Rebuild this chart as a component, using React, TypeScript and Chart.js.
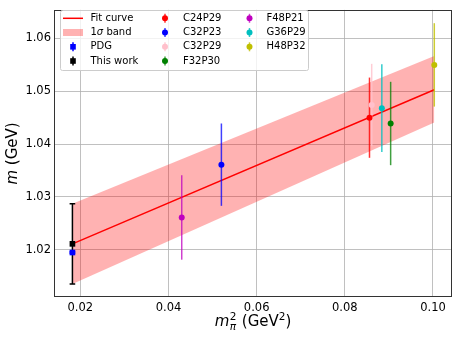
import React, { useEffect, useRef } from 'react';
import { Chart, registerables } from 'chart.js';
Chart.register(...registerables);

// ---- data ----
const xTicks = [0.02, 0.04, 0.06, 0.08, 0.1];
const xTickLabels = ['0.02', '0.04', '0.06', '0.08', '0.10'];
const yTicks = [1.02, 1.03, 1.04, 1.05, 1.06];
const yTickLabels = ['1.02', '1.03', '1.04', '1.05', '1.06'];

const fitX = [0.0182, 0.1003];
const fitY = [1.0211, 1.0503];
const bandUpper = [1.0287, 1.0567];
const bandLower = [1.0135, 1.0441];

const pdgX = [0.0182];
const pdgY = [1.01946];
const pdgErr = [0.00016];
const thisWorkX = [0.0182];
const thisWorkY = [1.0211];
const thisWorkErr = [0.0076];

const seriesNames = ['C24P29', 'C32P23', 'C32P29', 'F32P30', 'F48P21', 'G36P29', 'H48P32'];
const seriesX = [0.0856, 0.052, 0.0861, 0.0904, 0.043, 0.0884, 0.1003];
const seriesY = [1.045, 1.0361, 1.0474, 1.0439, 1.0261, 1.0468, 1.055];
const seriesErr = [0.0076, 0.0078, 0.0078, 0.0079, 0.008, 0.0083, 0.0079];
const seriesColors = ['#ff0000', '#0000ff', '#ffc0cb', '#008000', '#bf00bf', '#00bfbf', '#bfbf00'];
const seriesBarColors = ['rgba(255,0,0,0.8)', 'rgba(0,0,255,0.75)', 'rgba(255,192,203,0.8)', 'rgba(0,128,0,0.75)', 'rgba(191,0,191,0.75)', 'rgba(0,191,191,0.8)', 'rgba(191,191,0,0.8)'];

const FONT = '"DejaVu Sans", sans-serif';
const X_MIN = 0.01402, X_MAX = 0.10432, Y_MIN = 1.01103, Y_MAX = 1.06542;

function vbar(ctx: CanvasRenderingContext2D, x: number, y1: number, y2: number, color: string, cap: number) {
  ctx.save();
  ctx.strokeStyle = color;
  ctx.lineWidth = 1.5;
  ctx.beginPath();
  ctx.moveTo(x, y1);
  ctx.lineTo(x, y2);
  if (cap > 0) {
    ctx.moveTo(x - cap, y1); ctx.lineTo(x + cap, y1);
    ctx.moveTo(x - cap, y2); ctx.lineTo(x + cap, y2);
  }
  ctx.stroke();
  ctx.restore();
}

const errorBarPlugin = {
  id: 'errbars',
  afterDatasetDraw(chart: any, args: any) {
    if (args.index !== 2) return;
    const ctx = chart.ctx as CanvasRenderingContext2D;
    const xs = chart.scales.x, ys = chart.scales.y;
    ctx.save();
    ctx.beginPath();
    ctx.rect(chart.chartArea.left, chart.chartArea.top, chart.chartArea.right - chart.chartArea.left, chart.chartArea.bottom - chart.chartArea.top);
    ctx.clip();
    pdgX.forEach((x, i) => vbar(ctx, xs.getPixelForValue(x), ys.getPixelForValue(pdgY[i] + pdgErr[i]), ys.getPixelForValue(pdgY[i] - pdgErr[i]), '#0000ff', 2.8));
    thisWorkX.forEach((x, i) => vbar(ctx, xs.getPixelForValue(x), ys.getPixelForValue(thisWorkY[i] + thisWorkErr[i]), ys.getPixelForValue(thisWorkY[i] - thisWorkErr[i]), '#000000', 2.8));
    seriesX.forEach((x, i) => vbar(ctx, xs.getPixelForValue(x), ys.getPixelForValue(seriesY[i] + seriesErr[i]), ys.getPixelForValue(seriesY[i] - seriesErr[i]), seriesBarColors[i], 0));
    ctx.restore();
  },
};

function drawRich(ctx: CanvasRenderingContext2D, parts: { t: string; f: string; dy?: number; group?: boolean }[], x: number, y: number) {
  let cx = x;
  for (const p of parts) {
    ctx.font = p.f;
    ctx.fillText(p.t, cx, y + (p.dy || 0));
    cx += ctx.measureText(p.t).width;
  }
}

const decorPlugin = {
  id: 'decor',
  afterDraw(chart: any) {
    const ctx = chart.ctx as CanvasRenderingContext2D;
    const a = chart.chartArea;
    ctx.save();
    // frame
    ctx.strokeStyle = '#333333';
    ctx.lineWidth = 1;
    ctx.strokeRect(Math.round(a.left) + 0.5, Math.round(a.top) + 0.5, Math.round(a.right - a.left) - 1, Math.round(a.bottom - a.top) - 1);

    ctx.fillStyle = '#000';
    // y title
    ctx.save();
    ctx.translate(13, (a.top + a.bottom) / 2);
    ctx.rotate(-Math.PI / 2);
    ctx.textBaseline = 'middle';
    ctx.textAlign = 'left';
    const yParts = [{ t: 'm', f: `italic 15px ${FONT}` }, { t: ' (GeV)', f: `15px ${FONT}` }];
    let wsum = 0;
    yParts.forEach(p => { ctx.font = p.f; wsum += ctx.measureText(p.t).width; });
    drawRich(ctx, yParts, -wsum / 2, 0);
    ctx.restore();

    // x title
    ctx.save();
    ctx.textBaseline = 'alphabetic';
    ctx.textAlign = 'left';
    const big = `15px ${FONT}`, bigI = `italic 15px ${FONT}`, sm = `10.5px ${FONT}`, smI = `italic 10.5px ${FONT}`;
    ctx.font = bigI; const wm = ctx.measureText('m').width;
    ctx.font = smI; const wpi = ctx.measureText('π').width;
    ctx.font = sm; const w2 = ctx.measureText('2').width;
    const wsup = Math.max(wpi, w2) + 1;
    ctx.font = big; const wA = ctx.measureText(' (GeV').width; const wC = ctx.measureText(')').width;
    const total = wm + wsup + wA + w2 + wC;
    const base = 326;
    let cx = (a.left + a.right) / 2 - total / 2;
    ctx.font = bigI; ctx.fillText('m', cx, base); cx += wm;
    ctx.font = smI; ctx.fillText('π', cx + 0.5, base + 3.5);
    ctx.font = sm; ctx.fillText('2', cx + 0.5, base - 6.5); cx += wsup;
    ctx.font = big; ctx.fillText(' (GeV', cx, base); cx += wA;
    ctx.font = sm; ctx.fillText('2', cx, base - 6.5); cx += w2;
    ctx.font = big; ctx.fillText(')', cx, base);
    ctx.restore();

    // legend
    const lx = 60, ly = 10, lw = 248, lh = 60;
    ctx.save();
    ctx.fillStyle = 'rgba(255,255,255,0.8)';
    ctx.strokeStyle = '#cccccc';
    ctx.lineWidth = 1;
    ctx.beginPath();
    (ctx as any).roundRect(lx + 0.5, ly + 0.5, lw, lh, 2);
    ctx.fill();
    ctx.stroke();
    ctx.restore();

    const rows = [18.3, 32.5, 46.8, 61];
    const leg = `10px ${FONT}`;
    ctx.textBaseline = 'middle';
    ctx.fillStyle = '#000';
    // col 1
    ctx.strokeStyle = '#ff0000'; ctx.lineWidth = 1.5;
    ctx.beginPath(); ctx.moveTo(63, rows[0]); ctx.lineTo(83, rows[0]); ctx.stroke();
    ctx.fillStyle = 'rgba(255,0,0,0.3)';
    ctx.fillRect(63, rows[1] - 3.5, 20, 7);
    vbar(ctx, 73, rows[2] - 4.5, rows[2] + 4.5, '#0000ff', 0);
    ctx.fillStyle = '#0000ff'; ctx.fillRect(70.2, rows[2] - 2.8, 5.6, 5.6);
    vbar(ctx, 73, rows[3] - 4.5, rows[3] + 4.5, '#000000', 0);
    ctx.fillStyle = '#000000'; ctx.fillRect(70.2, rows[3] - 2.8, 5.6, 5.6);
    ctx.fillStyle = '#000';
    const tx1 = 90.5;
    ctx.font = leg; ctx.fillText('Fit curve', tx1, rows[0]);
    drawRich(ctx, [{ t: '1', f: leg }, { t: 'σ', f: `italic 10px ${FONT}` }, { t: ' band', f: leg }], tx1, rows[1]);
    ctx.font = leg; ctx.fillText('PDG', tx1, rows[2]);
    ctx.fillText('This work', tx1, rows[3]);
    // cols 2, 3
    seriesNames.forEach((name, i) => {
      const col = i < 4 ? 0 : 1;
      const r = rows[i % 4];
      const hx = col === 0 ? 165 : 249.5;
      const txx = col === 0 ? 183 : 266.5;
      vbar(ctx, hx, r - 4.5, r + 4.5, seriesBarColors[i], 0);
      ctx.fillStyle = seriesColors[i];
      ctx.beginPath(); ctx.arc(hx, r, 3, 0, Math.PI * 2); ctx.fill();
      ctx.fillStyle = '#000';
      ctx.font = leg;
      ctx.fillText(name, txx, r);
    });
    ctx.restore();
  },
};

export default function App() {
  const ref = useRef<HTMLCanvasElement>(null);
  useEffect(() => {
    const canvas = ref.current!;
    const pts = (xs: number[], ys: number[]) => xs.map((x, i) => ({ x, y: ys[i] }));
    const datasets: any[] = [
      { label: 'bandLower', data: pts(fitX, bandLower), showLine: true, borderWidth: 0, borderColor: 'rgba(0,0,0,0)', pointRadius: 0, fill: false, order: 30 },
      { label: '1σ band', data: pts(fitX, bandUpper), showLine: true, borderWidth: 0, borderColor: 'rgba(0,0,0,0)', pointRadius: 0, fill: '-1', backgroundColor: 'rgba(255,0,0,0.3)', order: 29 },
      { label: 'Fit curve', data: pts(fitX, fitY), showLine: true, borderColor: '#ff0000', borderWidth: 1.5, pointRadius: 0, fill: false, order: 28 },
      { label: 'PDG', data: pts(pdgX, pdgY), pointStyle: 'rect', pointRadius: 4, pointBackgroundColor: '#0000ff', pointBorderWidth: 0, order: 26 },
      { label: 'This work', data: pts(thisWorkX, thisWorkY), pointStyle: 'rect', pointRadius: 4, pointBackgroundColor: '#000000', pointBorderWidth: 0, order: 27 },
      ...seriesNames.map((name, i) => ({
        label: name,
        data: [{ x: seriesX[i], y: seriesY[i] }],
        pointStyle: 'circle',
        pointRadius: 3,
        pointBackgroundColor: seriesColors[i],
        pointBorderWidth: 0,
        order: 20 - i,
      })),
    ];
    const tickFont = { family: FONT, size: 11.5 };
    const chart = new Chart(canvas, {
      type: 'scatter',
      data: { datasets },
      options: {
        animation: false,
        responsive: false,
        devicePixelRatio: 1,
        layout: { padding: { top: 6, right: 6, left: 0, bottom: 0 } },
        plugins: { legend: { display: false }, tooltip: { enabled: false } },
        scales: {
          x: {
            type: 'linear', min: X_MIN, max: X_MAX,
            afterBuildTicks: (s: any) => { s.ticks = xTicks.map(v => ({ value: v })); },
            afterFit: (s: any) => { s.height = 44; },
            ticks: { callback: (_v: any, i: number) => xTickLabels[i], font: tickFont, color: '#000', padding: 4, maxRotation: 0, autoSkip: false },
            grid: { color: '#b0b0b0', lineWidth: 0.8, drawTicks: false },
            border: { display: false },
          },
          y: {
            type: 'linear', min: Y_MIN, max: Y_MAX,
            afterBuildTicks: (s: any) => { s.ticks = yTicks.map(v => ({ value: v })); },
            afterFit: (s: any) => { s.width = 54; },
            ticks: { callback: (_v: any, i: number) => yTickLabels[i], font: tickFont, color: '#000', padding: 3, autoSkip: false },
            grid: { color: '#b0b0b0', lineWidth: 0.8, drawTicks: false },
            border: { display: false },
          },
        },
      } as any,
      plugins: [errorBarPlugin, decorPlugin],
    });
    return () => chart.destroy();
  }, []);
  return (
    <div style={{ position: 'fixed', left: 0, top: 0, width: 458, height: 341, background: '#fff' }}>
      <canvas ref={ref} width={458} height={341} style={{ width: 458, height: 341, display: 'block' }} />
    </div>
  );
}
